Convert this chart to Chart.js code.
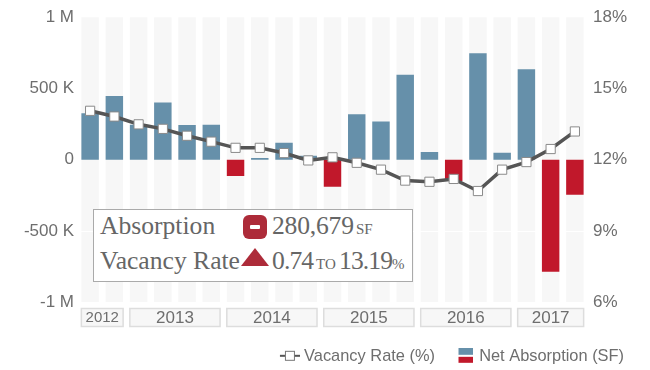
<!DOCTYPE html>
<html lang="en">

<head>
    <meta charset="UTF-8">
    <title>Net Absorption and Vacancy Rate</title>
    <script src="https://cdn.jsdelivr.net/npm/chart.js"></script>
    <style>
        html, body { margin: 0; padding: 0; background: #fff; }
        #wrap { position: relative; width: 650px; height: 370px; overflow: hidden; }
        #callout {
            position: absolute; left: 93px; top: 209px; width: 318px; height: 71px;
            background: #fff; border: 1px solid #aaa; box-sizing: content-box;
            font-family: "Liberation Serif", serif; color: #666;
        }
        #callout span, #callout svg { position: absolute; white-space: nowrap; }
        .big { font-size: 25.6px; line-height: 30px; }
        .tight { letter-spacing: -0.9px; }
        .small { font-size: 15px; line-height: 16px; }
    </style>
</head>

<body>
    <div id="wrap">
        <canvas id="myChart" width="650" height="370"></canvas>
        <div id="callout">
            <span class="big" style="left:6px;top:1px" id="c-label-1"></span>
            <span class="big" style="left:6px;top:36px" id="c-label-2"></span>
            <svg style="left:149px;top:5px" width="24" height="24" viewBox="0 0 24 24">
                <rect width="24" height="24" rx="6" fill="#ad2b39"></rect>
                <rect x="7" y="10" width="10" height="4" rx="1" fill="#fff"></rect>
            </svg>
            <svg style="left:147px;top:38px" width="28" height="18" viewBox="0 0 28 18">
                <polygon points="14,0 28,18 0,18" fill="#ad2b39"></polygon>
            </svg>
            <span class="big" style="left:178px;top:1px;letter-spacing:-0.2px" id="c-abs"></span>
            <span class="small" style="left:262px;top:11px">SF</span>
            <span class="big tight" style="left:178px;top:36px" id="c-from"></span>
            <span class="small" style="left:222px;top:46px">TO</span>
            <span class="big tight" style="left:245px;top:36px" id="c-to"></span>
            <span class="small" style="left:298px;top:46px">%</span>
        </div>
    </div>
</body>

<script>
    const categories = [
        '2012 Q3', '2012 Q4',
        '2013 Q1', '2013 Q2', '2013 Q3', '2013 Q4',
        '2014 Q1', '2014 Q2', '2014 Q3', '2014 Q4',
        '2015 Q1', '2015 Q2', '2015 Q3', '2015 Q4',
        '2016 Q1', '2016 Q2', '2016 Q3', '2016 Q4',
        '2017 Q1', '2017 Q2', '2017 Q3'
    ]
    const absorption = [
        327000, 447000, 245000, 402000, 243000, 245000, -114000,
        12000, 119000, 28000, -190000, 320000, 268000, 596000,
        54000, -150000, 748000, 49000, 636000, -787000, -247000
    ]
    const vacancy = [
        14.06, 13.82, 13.49, 13.30, 13.01, 12.76, 12.50,
        12.50, 12.28, 11.97, 12.10, 11.87, 11.58, 11.12,
        11.07, 11.19, 10.68, 11.58, 11.90, 12.45, 13.19
    ]
    const years = ['2012', '2013', '2014', '2015', '2016', '2017']
    const leftTicks = { '1000000': '1 M', '500000': '500 K', '0': '0', '-500000': '-500 K', '-1000000': '-1 M' }

    document.getElementById('c-label-1').textContent = 'Absorption'
    document.getElementById('c-label-2').textContent = 'Vacancy Rate'
    document.getElementById('c-abs').textContent = '280,679'
    document.getElementById('c-from').textContent = '0.74'
    document.getElementById('c-to').textContent = '13.19'

    const GREY = '#6e6e6e'
    const BLUE = '#6690aa'
    const RED = '#c1182b'

    // both swatches have empty room left and below so they sit close to their text
    function lineSwatch() {
        const c = document.createElement('canvas')
        c.width = 24; c.height = 14
        const g = c.getContext('2d')
        g.fillStyle = '#555'
        g.fillRect(4, 5, 20, 2)
        g.fillStyle = '#fff'
        g.strokeStyle = '#777'
        g.fillRect(9.5, 1.5, 9, 9)
        g.strokeRect(9.5, 1.5, 9, 9)
        return c
    }

    function barSwatch() {
        const c = document.createElement('canvas')
        c.width = 21; c.height = 18
        const g = c.getContext('2d')
        g.fillStyle = BLUE
        g.fillRect(6, 0, 15, 7)
        g.fillStyle = RED
        g.fillRect(6, 9, 15, 6)
        return c
    }

    // grey column behind every bar, plus the white line at -500 K
    const bands = {
        id: 'bands',
        beforeDatasetsDraw(chart) {
            const { ctx, chartArea, scales } = chart
            const half = 8.75
            ctx.save()
            ctx.fillStyle = '#f7f7f7'
            categories.forEach(c => {
                const x = scales.x.getPixelForValue(c)
                ctx.fillRect(x - half, chartArea.top, half * 2, chartArea.bottom - chartArea.top)
            })
            ctx.fillStyle = '#fff'
            ctx.fillRect(chartArea.left, Math.round(scales.y.getPixelForValue(-500000)), chartArea.right - chartArea.left, 1)
            ctx.restore()
        }
    }

    // year boxes under the columns
    const yearBoxes = {
        id: 'yearBoxes',
        afterDraw(chart) {
            const { ctx, scales } = chart
            const half = 8.75
            ctx.save()
            years.forEach(year => {
                const inYear = categories.filter(c => c.startsWith(year))
                const x0 = scales.x.getPixelForValue(inYear[0]) - half
                const x1 = scales.x.getPixelForValue(inYear[inYear.length - 1]) + half
                ctx.fillStyle = '#f7f7f7'
                ctx.fillRect(x0, 308.5, x1 - x0, 18)
                ctx.strokeStyle = '#ddd'
                ctx.lineWidth = 1.5
                ctx.strokeRect(x0, 308.5, x1 - x0, 18)
                ctx.fillStyle = GREY
                ctx.font = (inYear.length < 3 ? '15px' : '17px') + ' "Liberation Sans"'
                ctx.textAlign = 'center'
                ctx.textBaseline = 'middle'
                ctx.fillText(year, (x0 + x1) / 2, 318)
            })
            ctx.restore()
        }
    }

    const lineIcon = lineSwatch()
    const barIcon = barSwatch()

    new Chart(document.getElementById('myChart'), {
        data: {
            labels: categories,
            datasets: [{
                type: 'line',
                label: 'Vacancy Rate (%)',
                data: vacancy,
                yAxisID: 'y2',
                order: 1,
                borderColor: '#555555',
                borderWidth: 3.5,
                tension: 0,
                pointStyle: 'rect',
                pointRadius: 6.5,
                pointBackgroundColor: '#ffffff',
                pointBorderColor: '#8a8a8a',
                pointBorderWidth: 1
            }, {
                type: 'bar',
                label: 'Net Absorption (SF)',
                data: absorption,
                yAxisID: 'y',
                order: 2,
                barPercentage: 0.72,
                categoryPercentage: 1,
                backgroundColor: ctx => ctx.raw < 0 ? RED : BLUE
            }]
        },
        options: {
            responsive: false,
            animation: false,
            layout: { padding: { top: 17.3, right: 6, bottom: -5, left: 0 } },
            plugins: {
                tooltip: { enabled: false },
                legend: {
                    position: 'bottom',
                    align: 'end',
                    labels: {
                        usePointStyle: true,
                        pointStyleWidth: 16,
                        padding: 20,
                        color: GREY,
                        font: { family: '"Liberation Sans"', size: 16.4 },
                        generateLabels: () => [
                            { text: 'Vacancy Rate (%)', pointStyle: lineIcon, fontColor: GREY, lineWidth: 0 },
                            { text: 'Net Absorption (SF)', pointStyle: barIcon, fontColor: GREY, lineWidth: 0 }
                        ]
                    }
                }
            },
            scales: {
                x: {
                    offset: true,
                    border: { display: false },
                    grid: { display: false },
                    ticks: { display: false },
                    afterFit: s => { s.height = 26.5 }
                },
                y: {
                    position: 'left',
                    min: -1000000,
                    max: 1000000,
                    border: { display: false },
                    grid: { display: false, drawTicks: false },
                    afterFit: s => { s.width = 78 },
                    ticks: {
                        stepSize: 500000,
                        padding: 4,
                        color: GREY,
                        font: { family: '"Liberation Sans"', size: 17 },
                        callback: v => leftTicks[String(v)]
                    }
                },
                y2: {
                    position: 'right',
                    min: 6,
                    max: 18,
                    border: { display: false },
                    grid: { display: false, drawTicks: false },
                    afterFit: s => { s.width = 57 },
                    ticks: {
                        stepSize: 3,
                        padding: 6,
                        color: GREY,
                        font: { family: '"Liberation Sans"', size: 17 },
                        callback: v => v + '%'
                    }
                }
            }
        },
        plugins: [bands, yearBoxes]
    })
</script>

</html>
